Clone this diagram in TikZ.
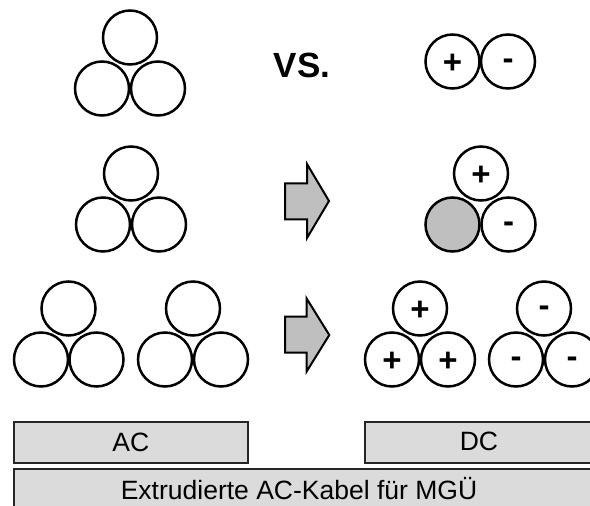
\documentclass[tikz,border=0pt]{standalone}
\usepackage{fontspec}
\setmainfont{Liberation Sans}
\begin{document}
\begin{tikzpicture}[x=1pt,y=-1pt,
  cable/.style={circle, draw=black, line width=2.5pt, minimum size=54pt, inner sep=0pt, fill=white,
    font=\bfseries\fontsize{33pt}{33pt}\selectfont},
  plussign/.style={text height=23.4pt, text depth=0pt},
  minussign/.style={text height=16.4pt, text depth=0pt},
  shaded/.style={fill=gray!50},
  bararrow/.style={draw=black, line width=2pt, fill=gray!50, line join=miter},
  graybox/.style={draw=black!85, line width=1.8pt, fill=gray!28, inner sep=0pt, anchor=north west},
  boxtext/.style={font=\fontsize{26.5pt}{26.5pt}\selectfont, inner sep=0pt},
  vstext/.style={font=\bfseries\fontsize{35pt}{35pt}\selectfont, anchor=base, inner sep=0pt}
]
\useasboundingbox (0,0) rectangle (590,506);
\clip (0,0) rectangle (590,506);
\fill[white] (0,0) rectangle (590,506);

% Row 1 left trefoil
\node[cable] (a1t) at (130,37.5) {};
\node[cable] (a1l) at (102,88.5) {};
\node[cable] (a1r) at (158,88.5) {};
\node[vstext] (vs) at (302,77) {VS.};
% Row 1 right pair
\node[cable, plussign] (d1p) at (452.5,61.5) {+};
\node[cable, minussign] (d1m) at (508,61.5) {-};

% Row 2 left trefoil
\node[cable] (a2t) at (131,173.5) {};
\node[cable] (a2l) at (103,224.5) {};
\node[cable] (a2r) at (159,224.5) {};
% Row 2 arrow
\draw[bararrow] (285,183.3) -- (307,183.3) -- (307,164) -- (329,201) -- (307,238) -- (307,219.3) -- (285,219.3) -- cycle;
% Row 2 right trefoil
\node[cable, plussign] (d2t) at (481,173.5) {+};
\node[cable, shaded] (d2l) at (452.5,224.5) {};
\node[cable, minussign] (d2r) at (508.5,224.5) {-};

% Row 3 left trefoils
\node[cable] (a3t) at (68.5,308.5) {};
\node[cable] (a3l) at (41,359.5) {};
\node[cable] (a3r) at (96.5,359.5) {};
\node[cable] (b3t) at (193,308.5) {};
\node[cable] (b3l) at (165,359.5) {};
\node[cable] (b3r) at (221,359.5) {};
% Row 3 arrow
\draw[bararrow] (285,316.7) -- (306.5,316.7) -- (306.5,298.3) -- (329.3,335) -- (306.5,371.7) -- (306.5,352.7) -- (285,352.7) -- cycle;
% Row 3 right trefoils
\node[cable, plussign] (c3t) at (420,308.5) {+};
\node[cable, plussign] (c3l) at (392,359.5) {+};
\node[cable, plussign] (c3r) at (448,359.5) {+};
\node[cable, minussign] (e3t) at (544,308.5) {-};
\node[cable, minussign] (e3l) at (516,359.5) {-};
\node[cable, minussign] (e3r) at (572,359.5) {-};

% Bottom boxes
\node[graybox, minimum width=234.3pt, minimum height=41.6pt] (acbox) at (12.7,420.7) {};
\node[boxtext] (actext) at (acbox.center) {AC};
\node[graybox, minimum width=234.3pt, minimum height=41.6pt] (dcbox) at (364,420.7) {};
\node[boxtext] (dctext) at (479,441.5) {DC};
\node[graybox, minimum width=590pt, minimum height=41.6pt] (mgubox) at (12.7,468.3) {};
\node[boxtext] (mgutext) at (299,489) {Extrudierte AC-Kabel für MGÜ};
\end{tikzpicture}
\end{document}
